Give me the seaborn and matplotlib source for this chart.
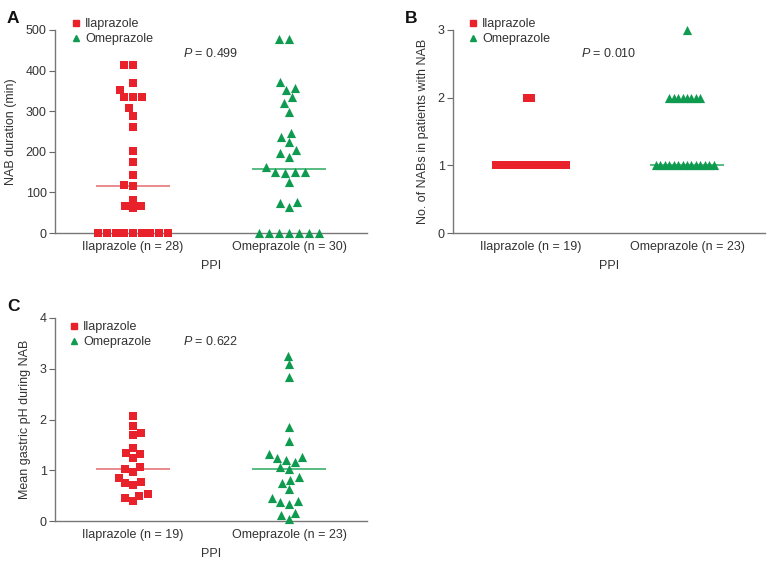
import numpy as np
import pandas as pd
import matplotlib
matplotlib.use("Agg")
import matplotlib.pyplot as plt
from matplotlib.lines import Line2D
from matplotlib.collections import PathCollection
import seaborn as sns

# Panel A: NAB duration (min)
ila_dur = [413, 413, 369, 351, 335, 334, 334, 307, 289, 262, 203, 175, 142,
           117, 116, 82, 67, 66, 61, 0, 0, 0, 0, 0, 0, 0, 0, 0]
ome_dur = [478, 478, 371, 357, 352, 334, 319, 298, 246, 236, 223, 205, 198,
           188, 162, 151, 151, 151, 147, 125, 76, 74, 63, 0, 0, 0, 0, 0, 0, 0]
# Panel B: number of NABs
ila_num = [2, 2] + [1] * 17
ome_num = [3] + [2] * 8 + [1] * 14
# Panel C: mean gastric pH during NAB
ila_ph = [2.07, 1.88, 1.74, 1.70, 1.43, 1.34, 1.32, 1.24, 1.07, 1.02, 0.97,
          0.85, 0.76, 0.74, 0.70, 0.53, 0.50, 0.45, 0.39]
ome_ph = [3.26, 3.09, 2.83, 1.86, 1.57, 1.32, 1.26, 1.25, 1.20, 1.16, 1.07,
          1.03, 0.86, 0.81, 0.74, 0.64, 0.46, 0.39, 0.38, 0.34, 0.16, 0.12, 0.03]

labels_a = ["Ilaprazole (n = 28)", "Omeprazole (n = 30)"]
labels_bc = ["Ilaprazole (n = 19)", "Omeprazole (n = 23)"]
p_values = ["0.499", "0.010", "0.622"]

RED = "#e8212b"
GREEN = "#0f9b4f"
RED_LINE = "#e46b70"
GREEN_LINE = "#2aa862"
TXT = "#333333"

sns.set_style("white")
plt.rcParams["font.family"] = ["Liberation Sans", "DejaVu Sans"]
plt.rcParams["mathtext.fontset"] = "custom"
plt.rcParams["mathtext.it"] = "Liberation Sans:italic"

W, H = 770, 565
fig = plt.figure(figsize=(W / 100, H / 100), dpi=100)


def px_axes(l, t, r, b):
    return fig.add_axes([l / W, 1 - b / H, (r - l) / W, (b - t) / H])


ax_a = px_axes(55, 30, 367, 233)
ax_b = px_axes(453, 30, 765, 233)
ax_c = px_axes(55, 318, 367, 521)

resize = []


def swarm(ax, values, label, order, color, line_color, marker, size, pack):
    df = pd.DataFrame({"PPI": label, "value": values})
    n_before = len(ax.collections)
    # swarm is laid out with a different marker size so points pack like the original
    sns.swarmplot(data=df, x="PPI", y="value", order=order, color=color,
                  marker=marker, size=size * pack, linewidth=0, ax=ax,
                  clip_on=False, zorder=3)
    for coll in ax.collections[n_before:]:
        if isinstance(coll, PathCollection):
            resize.append((coll, size))
    i = order.index(label)
    ax.hlines(np.median(values), i - 0.24, i + 0.24, color=line_color,
              lw=1.1, zorder=2)


def style(ax, ymax, yticks, ylabel, letter, pval, lx, ly):
    ax.set_xlim(-0.5, 1.5)
    ax.set_ylim(0, ymax)
    ax.set_yticks(yticks)
    ax.set_xticks([-0.5, 0.5, 1.5], minor=True)
    ax.tick_params(axis="x", which="major", length=0, pad=6, labelsize=9, labelcolor=TXT)
    ax.tick_params(axis="x", which="minor", length=4, width=0.8, color="#666666")
    ax.tick_params(axis="y", length=4, width=0.8, color="#666666", labelsize=9,
                   labelcolor=TXT, pad=2, left=True)
    for s in ["top", "right"]:
        ax.spines[s].set_visible(False)
    for s in ["left", "bottom"]:
        ax.spines[s].set_color("#777777")
        ax.spines[s].set_linewidth(1.0)
    ax.set_xlabel("PPI", fontsize=9, color=TXT, labelpad=5)
    ax.set_ylabel(ylabel, fontsize=9, color=TXT, labelpad=6)
    handles = [
        Line2D([], [], ls="none", marker="s", color=RED, markersize=4.5, label="Ilaprazole"),
        Line2D([], [], ls="none", marker="^", color=GREEN, markersize=5, label="Omeprazole"),
    ]
    ax.legend(handles=handles, loc="upper left", frameon=False, fontsize=9,
              handlelength=0.6, handletextpad=0.45, labelspacing=0.25,
              borderaxespad=0, bbox_to_anchor=(lx / W, 1 - ly / H),
              bbox_transform=fig.transFigure, labelcolor=TXT)
    pos = ax.get_position()
    fig.text(pos.x0 - 48 / W, pos.y1 + 19 / H, letter, fontsize=12.5,
             fontweight="bold", va="top", ha="left", color="#111111")
    ax.text(0.5, 0.885, r"$P$ = " + pval, transform=ax.transAxes, fontsize=9,
            color=TXT, ha="center", va="center")


swarm(ax_a, ila_dur, labels_a[0], labels_a, RED, RED_LINE, "s", 5.3, 1.12)
swarm(ax_a, ome_dur, labels_a[1], labels_a, GREEN, GREEN_LINE, "^", 6.6, 1.05)
swarm(ax_b, ila_num, labels_bc[0], labels_bc, RED, RED_LINE, "s", 5.4, 0.56)
swarm(ax_b, ome_num, labels_bc[1], labels_bc, GREEN, GREEN_LINE, "^", 6.6, 0.46)
swarm(ax_c, ila_ph, labels_bc[0], labels_bc, RED, RED_LINE, "s", 5.3, 1.1)
swarm(ax_c, ome_ph, labels_bc[1], labels_bc, GREEN, GREEN_LINE, "^", 6.6, 0.95)

style(ax_a, 500, [0, 100, 200, 300, 400, 500], "NAB duration (min)", "A", p_values[0], 67, 13)
style(ax_b, 3, [0, 1, 2, 3], "No. of NABs in patients with NAB", "B", p_values[1], 464, 13)
style(ax_c, 4, [0, 1, 2, 3, 4], "Mean gastric pH during NAB", "C", p_values[2], 65, 316)

# lay out the swarms once, then freeze positions and set the final marker sizes
fig.canvas.draw()
for coll, size in resize:
    if "draw" in vars(coll):
        del coll.draw
    coll.set_sizes([size ** 2])

fig.savefig("out.png", dpi=100)
